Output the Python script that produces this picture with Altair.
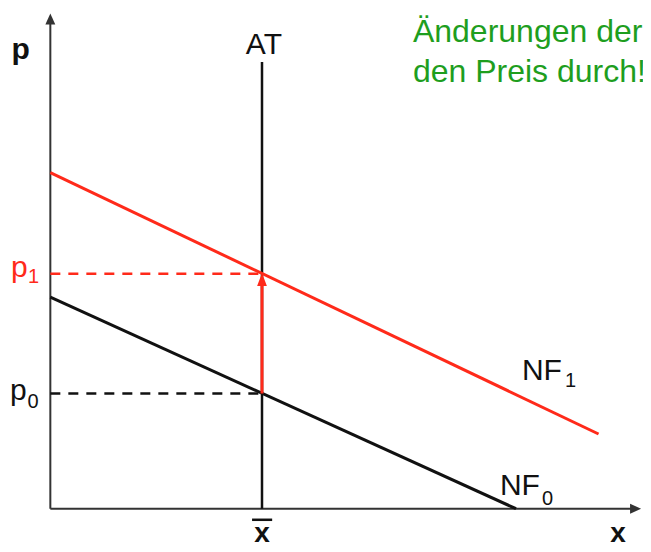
import altair as alt
import pandas as pd

# ---- data (quantity x, price p) ----
nf1_x = [0.0, 25.9]
nf1_p = [14.3, 3.18]
nf0_x = [0.0, 22.0]
nf0_p = [9.0, 0.0]
x_bar = 10.0
p0 = 4.9
p1 = 10.0
at_top = 19.0
y_axis_top = 20.7
x_axis_end = 27.7

X_DOMAIN = [-2, 28]
Y_DOMAIN = [-1.5, 21.3]

RED = "#ff2a1a"
INK = "#111111"
AXIS = "#333333"
GREEN = "#1e9e1e"
FONT = "Liberation Sans"

xs = alt.Scale(domain=X_DOMAIN, nice=False, zero=False)
ys = alt.Scale(domain=Y_DOMAIN, nice=False, zero=False)


def seg(df, color, width, dash=None):
    kw = dict(color=color, strokeWidth=width)
    if dash:
        kw["strokeDash"] = dash
    return alt.Chart(df).mark_rule(**kw).encode(
        x=alt.X("x:Q", scale=xs, axis=None),
        y=alt.Y("y:Q", scale=ys, axis=None),
        x2="x2:Q",
        y2="y2:Q",
    )


axes_df = pd.DataFrame({
    "x": [0.0, 0.0], "y": [0.0, 0.0],
    "x2": [0.0, x_axis_end], "y2": [y_axis_top, 0.0],
})
at_df = pd.DataFrame({"x": [x_bar], "y": [0.0], "x2": [x_bar], "y2": [at_top]})
nf0_df = pd.DataFrame({"x": [nf0_x[0]], "y": [nf0_p[0]], "x2": [nf0_x[1]], "y2": [nf0_p[1]]})
nf1_df = pd.DataFrame({"x": [nf1_x[0]], "y": [nf1_p[0]], "x2": [nf1_x[1]], "y2": [nf1_p[1]]})
dash0_df = pd.DataFrame({"x": [0.0], "y": [p0], "x2": [x_bar], "y2": [p0]})
dash1_df = pd.DataFrame({"x": [0.0], "y": [p1], "x2": [x_bar], "y2": [p1]})
shift_df = pd.DataFrame({"x": [x_bar], "y": [p0], "x2": [x_bar], "y2": [9.6]})
bar_df = pd.DataFrame({"x": [9.53], "y": [-0.47], "x2": [10.48], "y2": [-0.47]})

UP = "M0,-1L-0.9,1L0.9,1Z"
RIGHT = "M1,0L-1,-0.9L-1,0.9Z"
UP_RED = "M0,-1L-0.75,1L0.75,1Z"


def head(x, y, shape, size, color):
    return alt.Chart(pd.DataFrame({"x": [x], "y": [y]})).mark_point(
        shape=shape, size=size, filled=True, color=color, opacity=1, strokeWidth=0
    ).encode(x=alt.X("x:Q", scale=xs, axis=None), y=alt.Y("y:Q", scale=ys, axis=None))


def label(x, y, text, size, color=INK, weight="normal", align="left"):
    return alt.Chart(pd.DataFrame({"x": [x], "y": [y], "t": [text]})).mark_text(
        font=FONT, fontSize=size, color=color, fontWeight=weight,
        align=align, baseline="alphabetic"
    ).encode(x=alt.X("x:Q", scale=xs, axis=None), y=alt.Y("y:Q", scale=ys, axis=None), text="t:N")


layers = [
    seg(axes_df, AXIS, 2),
    seg(at_df, INK, 2.5),
    seg(nf0_df, INK, 3),
    seg(nf1_df, RED, 3),
    seg(dash0_df, INK, 2.5, [10, 8]),
    seg(dash1_df, RED, 2.5, [10, 8]),
    seg(shift_df, RED, 3),
    seg(bar_df, INK, 2.5),
    head(0.0, 20.83, UP, 121, AXIS),
    head(27.65, 0.0, RIGHT, 121, AXIS),
    head(x_bar, 9.75, UP_RED, 169, RED),
    label(-1.4, 19.13, "p", 30, weight="bold", align="center"),
    label(10.09, 19.34, "AT", 30, align="center"),
    label(-1.86, 9.85, "p", 30, color=RED),
    label(-1.06, 9.60, "1", 20, color=RED),
    label(-1.90, 4.63, "p", 30),
    label(-1.08, 4.28, "0", 20),
    label(22.28, 5.47, "NF", 30),
    label(24.32, 5.17, "1", 20),
    label(21.24, 0.58, "NF", 30),
    label(23.23, 0.16, "0", 20),
    label(10.0, -1.41, "x", 28, weight="bold", align="center"),
    label(26.82, -1.40, "x", 28, weight="bold", align="center"),
    label(17.13, 19.85, "Änderungen der", 32, color=GREEN),
    label(17.13, 18.15, "den Preis durch!", 32, color=GREEN),
]

chart = alt.layer(*layers).properties(
    width=635, height=536, padding=0,
    autosize=alt.AutoSizeParams(type="none"),
).configure_view(stroke=None)

chart.save("out.html", embed_options={"renderer": "svg", "actions": False})
